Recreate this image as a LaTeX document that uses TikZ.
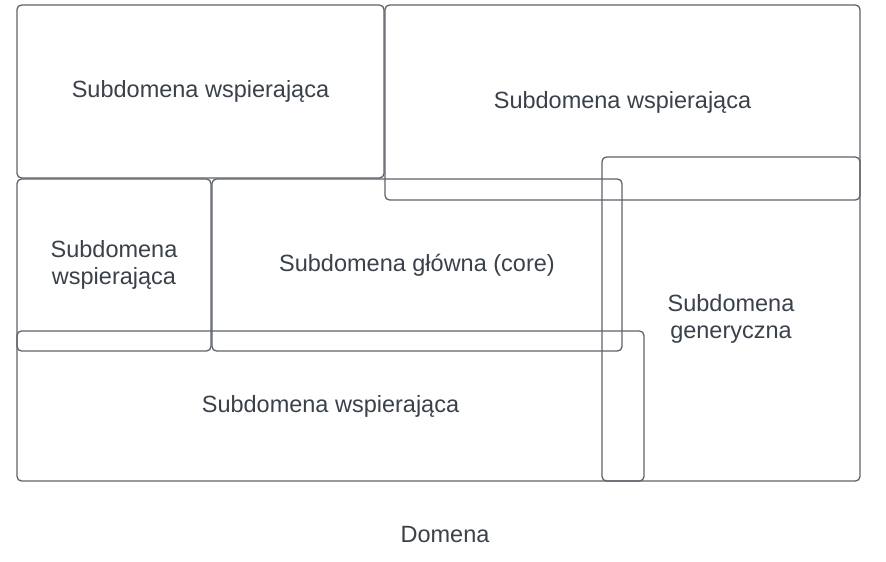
\documentclass[tikz,border=0pt]{standalone}
\usepackage{fontspec}
\setmainfont{Liberation Sans}
\definecolor{linec}{HTML}{5F6369}
\definecolor{textc}{HTML}{3A414A}
\begin{document}
\begin{tikzpicture}[x=1pt,y=-1pt,
  box/.style={draw=linec, line width=1.3pt, rounded corners=4.5pt, inner sep=0pt,
    text=textc, align=center, font=\fontsize{23.5}{27.5}\selectfont},
  lbl/.style={text=textc, font=\fontsize{23.5}{27.5}\selectfont, inner sep=0pt}]
\useasboundingbox (0,0) rectangle (886,562);
\fill[white] (0,0) rectangle (886,562);
\node[box, minimum width=367pt, minimum height=173pt] (a) at (200.5,91.5) {Subdomena wspierająca};
\node[box, minimum width=475pt, minimum height=195pt] (b) at (622.5,102.5) {Subdomena wspierająca};
\node[box, minimum width=194pt, minimum height=172pt] (c) at (114,265) {Subdomena\\wspierająca};
\node[box, minimum width=410pt, minimum height=172pt] (d) at (417,265) {Subdomena główna (core)};
\node[box, minimum width=627pt, minimum height=150pt] (e) at (330.5,406) {Subdomena wspierająca};
\node[box, minimum width=258pt, minimum height=324pt] (f) at (731,319) {Subdomena\\generyczna};
\node[lbl] (dom) at (445,535) {Domena};
\end{tikzpicture}
\end{document}
